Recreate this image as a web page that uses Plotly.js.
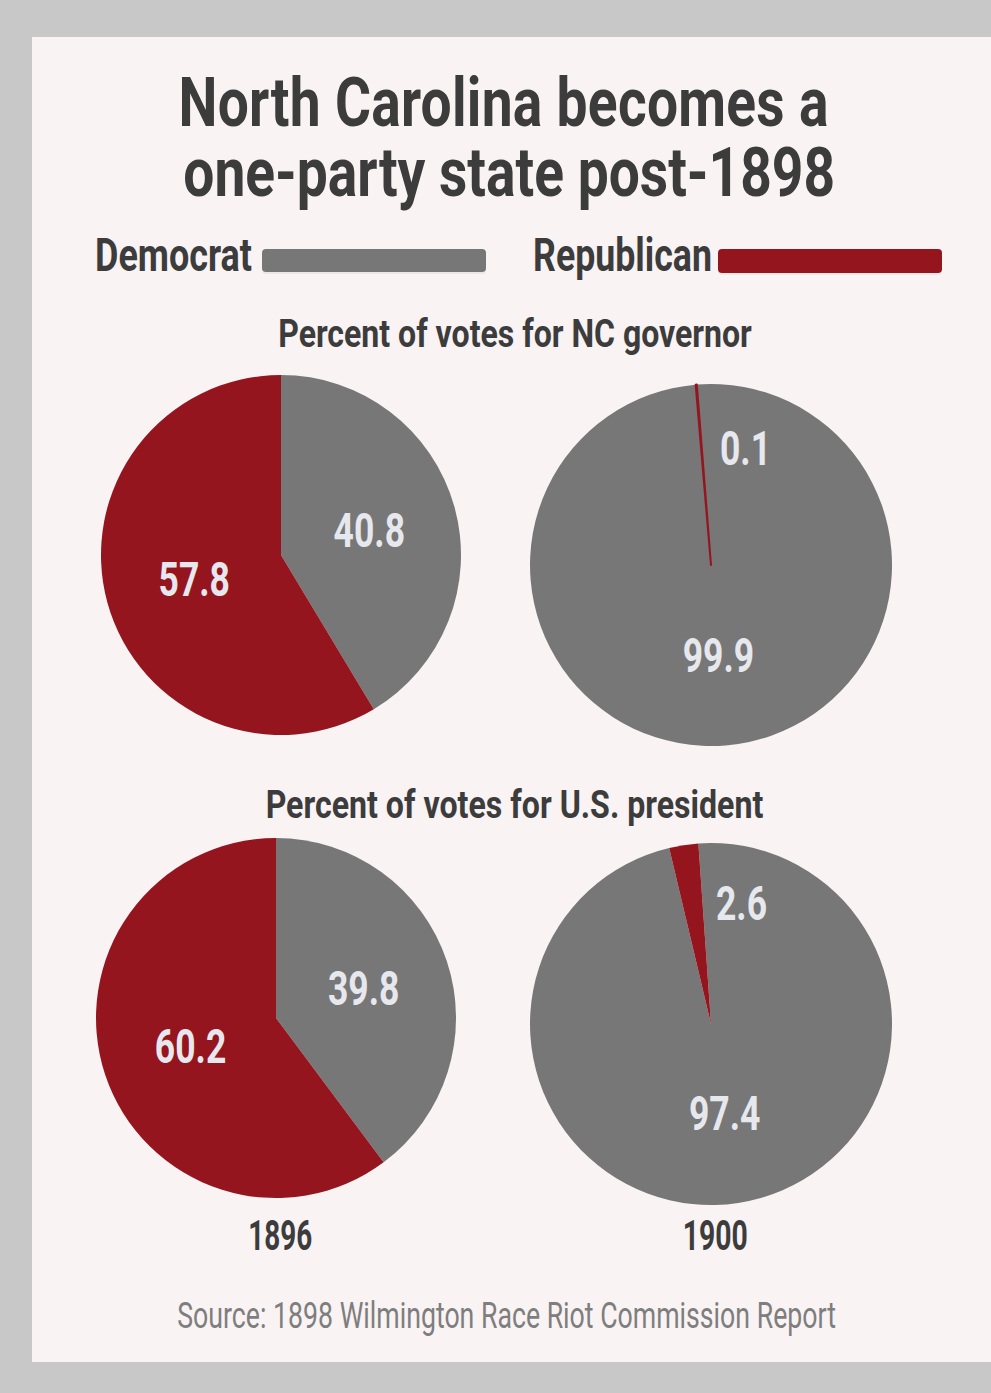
<!DOCTYPE html>
<html>
<head>
<meta charset="utf-8">
<script src="https://cdn.plot.ly/plotly-3.0.1.min.js"></script>
<style>html,body{margin:0;padding:0;background:#c8c8c8;}#chart{width:991px;height:1393px;}</style>
</head>
<body>
<div id="chart"></div>
<script>
// ---- data ----
const parties = ['Democrat', 'Republican'];
const years = ['1896', '1900'];
const governor1896 = [40.8, 57.8];
const governor1900 = [99.9, 0.1];
const president1896 = [39.8, 60.2];
const president1900 = [97.4, 2.6];
const titleLines = ['North Carolina becomes a', 'one-party state post-1898'];
const subtitles = ['Percent of votes for NC governor', 'Percent of votes for U.S. president'];
const sourceText = 'Source: 1898 Wilmington Race Riot Commission Report';

// ---- style ----
const W = 991, H = 1393;
const partyColors = ['#777777', '#95151f'];
const FONT = 'Roboto, "Noto Sans", sans-serif';
const LABEL_COLOR = '#e6e8ee';
const DARK = '#3c3c3c';
const PIE_TEXT_CONDENSE = 0.74;
const TITLE_SIZE = 69, TITLE_LINE_GAP = 70;
const TITLE_WIDTHS = [650, 652];
const px = x => x / W;
const py = y => 1 - y / H;

function pieTrace(values, cx, cy, r, opts) {
  opts = opts || {};
  return {
    type: 'pie',
    labels: parties,
    values: values,
    sort: false,
    direction: 'clockwise',
    rotation: opts.rotation || 0,
    marker: {colors: partyColors, line: opts.line || {width: 0}},
    texttemplate: '%{value}',
    textposition: opts.textposition || 'inside',
    insidetextorientation: 'horizontal',
    textfont: {family: FONT, size: 48, color: LABEL_COLOR, weight: 700},
    hoverinfo: 'none',
    showlegend: false,
    domain: {x: [px(cx - r), px(cx + r)], y: [py(cy + r), py(cy - r)]}
  };
}

const data = [
  pieTrace(governor1896, 281, 555, 180),
  pieTrace(governor1900, 711, 565, 181, {
    rotation: -4.5,
    textposition: ['inside', 'none'],
    line: {width: [0, 2], color: ['rgba(0,0,0,0)', partyColors[1]]}
  }),
  pieTrace(president1896, 276, 1018, 180),
  pieTrace(president1900, 711, 1024, 181, {rotation: -4, textposition: ['inside', 'none']})
];

// annotations; "w" = target rendered width used to condense the text, "f" = fixed condense factor
const annSpecs = [
  {text: titleLines.join('<br>'), x: 503, y: 60, yanchor: 'top', title: true, font: {size: TITLE_SIZE, color: DARK, weight: 700}},
  {text: parties[0], x: 93, y: 255, w: 157, xanchor: 'left', font: {size: 46, color: DARK, weight: 700}},
  {text: parties[1], x: 531, y: 255, w: 179, xanchor: 'left', font: {size: 46, color: DARK, weight: 700}},
  {text: subtitles[0], x: 515, y: 334, w: 474, font: {size: 38, color: DARK, weight: 700}},
  {text: subtitles[1], x: 514, y: 805, w: 498, font: {size: 38, color: DARK, weight: 700}},
  {text: String(governor1900[1]), x: 745, y: 448, f: PIE_TEXT_CONDENSE, font: {size: 48, color: LABEL_COLOR, weight: 700}},
  {text: String(president1900[1]), x: 741, y: 903, f: PIE_TEXT_CONDENSE, font: {size: 48, color: LABEL_COLOR, weight: 700}},
  {text: years[0], x: 280, y: 1235, w: 64, font: {size: 42, color: DARK, weight: 700}},
  {text: years[1], x: 714.5, y: 1235, w: 65, font: {size: 42, color: DARK, weight: 700}},
  {text: sourceText, x: 506.5, y: 1315, w: 659, font: {size: 37, color: '#7e7e7e', weight: 400}}
];

const annotations = annSpecs.map(a => ({
  text: a.text, x: px(a.x), y: py(a.y),
  xref: 'paper', yref: 'paper', showarrow: false,
  xanchor: a.xanchor || 'center', yanchor: a.yanchor || 'middle',
  font: Object.assign({family: FONT}, a.font)
}));

function roundRect(x0, y0, x1, y1, r) {
  const X = v => px(v), Y = v => py(v);
  return `M ${X(x0 + r)} ${Y(y0)} L ${X(x1 - r)} ${Y(y0)} Q ${X(x1)} ${Y(y0)} ${X(x1)} ${Y(y0 + r)} L ${X(x1)} ${Y(y1 - r)} Q ${X(x1)} ${Y(y1)} ${X(x1 - r)} ${Y(y1)} L ${X(x0 + r)} ${Y(y1)} Q ${X(x0)} ${Y(y1)} ${X(x0)} ${Y(y1 - r)} L ${X(x0)} ${Y(y0 + r)} Q ${X(x0)} ${Y(y0)} ${X(x0 + r)} ${Y(y0)} Z`;
}

const shapes = [
  {type: 'rect', xref: 'paper', yref: 'paper', x0: px(32), x1: px(991), y0: py(1362), y1: py(37), fillcolor: '#f9f3f3', line: {width: 0}, layer: 'below'},
  {type: 'path', xref: 'paper', yref: 'paper', path: roundRect(262, 251, 486, 274, 4), fillcolor: '#ece6e6', line: {width: 0}},
  {type: 'path', xref: 'paper', yref: 'paper', path: roundRect(718, 251, 942, 275, 4), fillcolor: '#ece6e6', line: {width: 0}},
  {type: 'path', xref: 'paper', yref: 'paper', path: roundRect(262, 249, 486, 272, 4), fillcolor: partyColors[0], line: {width: 0}},
  {type: 'path', xref: 'paper', yref: 'paper', path: roundRect(718, 249, 942, 273, 4), fillcolor: partyColors[1], line: {width: 0}}
];

const layout = {
  width: W, height: H,
  margin: {l: 0, r: 0, t: 0, b: 0},
  paper_bgcolor: '#c8c8c8',
  plot_bgcolor: 'rgba(0,0,0,0)',
  showlegend: false,
  annotations: annotations,
  shapes: shapes
};

function scaleAbout(el, x0, factor) {
  el.setAttribute('transform', `translate(${x0} 0) scale(${factor} 1) translate(${-x0} 0)`);
}

Plotly.newPlot('chart', data, layout, {staticPlot: true}).then(gd => {
  gd.querySelectorAll('g.annotation').forEach(g => {
    const i = +g.getAttribute('data-index');
    const spec = annSpecs[i];
    const t = g.querySelector('text.annotation-text');
    if (!t || !spec) return;
    let f = spec.f || 1;
    if (spec.title) {
      const lines = t.querySelectorAll('tspan.line');
      if (lines.length > 1) {
        lines[1].setAttribute('dy', (TITLE_LINE_GAP / TITLE_SIZE) + 'em');
        lines[1].setAttribute('dx', '7');
        const L1 = lines[0].getComputedTextLength();
        const L2 = lines[1].getComputedTextLength();
        f = TITLE_WIDTHS[1] / L2;
        const extra = (TITLE_WIDTHS[0] / f - L1) / Math.max(1, titleLines[0].length - 1);
        lines[0].style.letterSpacing = extra + 'px';
      }
    } else if (spec.w) {
      f = spec.w / t.getBBox().width;
    }
    const bb = t.getBBox();
    const x0 = spec.xanchor === 'left' ? bb.x : bb.x + bb.width / 2;
    scaleAbout(t, x0, f);
  });
  gd.querySelectorAll('g.slicetext text').forEach(t => {
    const tr = t.getAttribute('transform') || '';
    t.setAttribute('transform', tr + ` scale(${PIE_TEXT_CONDENSE} 1)`);
  });
});
</script>
</body>
</html>
